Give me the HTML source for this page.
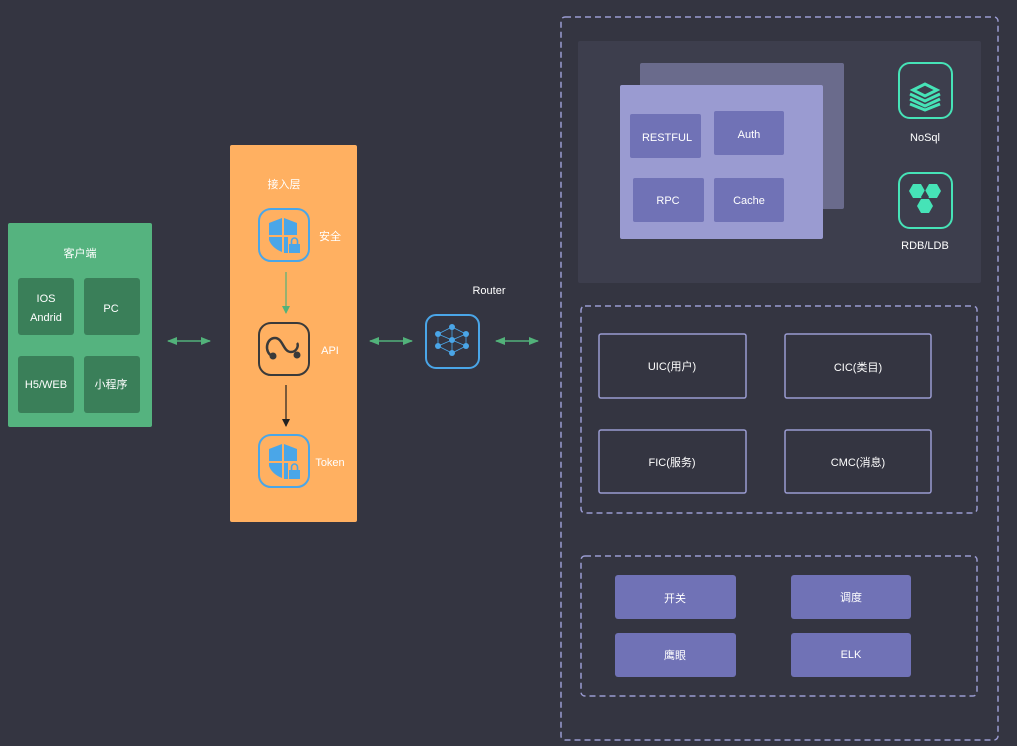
<!DOCTYPE html>
<html><head><meta charset="utf-8"><style>
html,body{margin:0;padding:0;background:#343541;width:1017px;height:746px;overflow:hidden}
text{font-family:"Liberation Sans","Noto Sans CJK SC",sans-serif;fill:#fff;font-size:11px;text-anchor:middle}
</style></head><body>
<svg width="1017" height="746" viewBox="0 0 1017 746" xmlns="http://www.w3.org/2000/svg">
<defs>
<marker id="ga" markerWidth="10" markerHeight="8" refX="9" refY="4" orient="auto-start-reverse" markerUnits="userSpaceOnUse"><path d="M0,0 L10,4 L0,8 Z" fill="#52b27a"/></marker>
<marker id="gb" markerWidth="8" markerHeight="8" refX="4" refY="7" orient="0" markerUnits="userSpaceOnUse"><path d="M0,0 L8,0 L4,8 Z" fill="#52b27a"/></marker>
<marker id="bb" markerWidth="8" markerHeight="8" refX="4" refY="7" orient="0" markerUnits="userSpaceOnUse"><path d="M0,0 L8,0 L4,8 Z" fill="#222"/></marker>
<g id="shield">
<rect x="1" y="1" width="50" height="52" rx="12" fill="none" stroke="#4aa6e8" stroke-width="2"/>
<path d="M11,15 L24,10 L24,27 L11,27 Z M26,10 L39,15 L39,27 L26,27 Z M11,29 L24,29 L24,44 Q14,40 11,32 Z M26,29 L30,29 L30,45 L26,45 Z" fill="#4aa6e8"/>
<rect x="31" y="36" width="11" height="9" fill="#4aa6e8"/>
<path d="M33.5,36 V33 a3,3 0 0 1 6,0 V36" fill="none" stroke="#4aa6e8" stroke-width="1.6"/>
</g>
</defs>

<!-- client -->
<rect x="8" y="223" width="144" height="204" rx="2" fill="#55b37f"/>
<text x="80" y="257" font-size="12">客户端</text>
<rect x="18" y="278" width="56" height="57" rx="3" fill="#3a7f59"/>
<rect x="84" y="278" width="56" height="57" rx="3" fill="#3a7f59"/>
<rect x="18" y="356" width="56" height="57" rx="3" fill="#3a7f59"/>
<rect x="84" y="356" width="56" height="57" rx="3" fill="#3a7f59"/>
<text x="46" y="302">IOS</text><text x="46" y="321">Andrid</text>
<text x="111" y="312">PC</text>
<text x="46" y="388">H5/WEB</text>
<text x="111" y="388">小程序</text>

<!-- arrows -->
<line x1="168" y1="341" x2="210" y2="341" stroke="#52b27a" stroke-width="1.5" marker-start="url(#ga)" marker-end="url(#ga)"/>
<line x1="370" y1="341" x2="412" y2="341" stroke="#52b27a" stroke-width="1.5" marker-start="url(#ga)" marker-end="url(#ga)"/>
<line x1="496" y1="341" x2="538" y2="341" stroke="#52b27a" stroke-width="1.5" marker-start="url(#ga)" marker-end="url(#ga)"/>

<!-- access layer -->
<rect x="230" y="145" width="127" height="377" rx="2" fill="#ffb061"/>
<text x="284" y="188" font-size="12">接入层</text>
<use href="#shield" x="258" y="208"/>
<text x="330" y="240">安全</text>
<line x1="286" y1="272" x2="286" y2="313" stroke="#52b27a" stroke-width="1.2" marker-end="url(#gb)"/>
<rect x="259" y="323" width="50" height="52" rx="12" fill="none" stroke="#3a3a3a" stroke-width="2"/>
<path d="M272,356 C264,352 266,338 275,338 C283,338 283,352 291,352 C297,352 299,345 297,343" fill="none" stroke="#3a3a3a" stroke-width="2.5"/>
<circle cx="273" cy="356" r="3.5" fill="#3a3a3a"/>
<circle cx="297" cy="355" r="3.5" fill="#3a3a3a"/>
<text x="330" y="354">API</text>
<line x1="286" y1="385" x2="286" y2="426" stroke="#222" stroke-width="1.2" marker-end="url(#bb)"/>
<use href="#shield" x="258" y="434"/>
<text x="330" y="466">Token</text>

<!-- router -->
<text x="489" y="294">Router</text>
<rect x="426" y="315" width="53" height="53" rx="10" fill="none" stroke="#4aa6e8" stroke-width="2"/>
<g stroke="#4aa6e8" stroke-width="0.8" fill="none">
<path d="M452,327 L438,334 L438,346 L452,353 L466,346 L466,334 Z M452,327 V353 M438,334 L466,346 M466,334 L438,346"/>
</g>
<g fill="#4aa6e8"><circle cx="452" cy="327" r="3"/><circle cx="438" cy="334" r="3"/><circle cx="466" cy="334" r="3"/><circle cx="438" cy="346" r="3"/><circle cx="466" cy="346" r="3"/><circle cx="452" cy="353" r="3"/><circle cx="452" cy="340" r="3"/></g>

<!-- outer dashed -->
<rect x="561" y="17" width="437" height="723" rx="4" fill="none" stroke="#9a9bd1" stroke-width="1.5" stroke-dasharray="6,4"/>
<rect x="578" y="41" width="403" height="242" rx="2" fill="#3d3e4d"/>
<rect x="640" y="63" width="204" height="146" rx="2" fill="#6a6b8c"/>
<rect x="620" y="85" width="203" height="154" rx="2" fill="#9a9bd1"/>
<rect x="630" y="114" width="71" height="44" rx="2" fill="#7072b6"/>
<rect x="714" y="111" width="70" height="44" rx="2" fill="#7072b6"/>
<rect x="633" y="178" width="71" height="44" rx="2" fill="#7072b6"/>
<rect x="714" y="178" width="70" height="44" rx="2" fill="#7072b6"/>
<text x="667" y="141">RESTFUL</text><text x="749" y="138">Auth</text>
<text x="668" y="204">RPC</text><text x="749" y="204">Cache</text>

<rect x="899" y="63" width="53" height="55" rx="11" fill="none" stroke="#46e3b7" stroke-width="2"/>
<g fill="none" stroke="#46e3b7" stroke-width="3">
<path d="M913,90 L925,84 L937,90 L925,96 Z"/>
<path d="M910,94 L925,101 L940,94"/><path d="M910,99 L925,106 L940,99"/><path d="M910,104 L925,110 L940,104"/>
</g>
<text x="925" y="141">NoSql</text>
<rect x="899" y="173" width="53" height="55" rx="11" fill="none" stroke="#46e3b7" stroke-width="2"/>
<g fill="#46e3b7">
<polygon points="909,191 913,184 921,184 925,191 921,198 913,198"/>
<polygon points="925,191 929,184 937,184 941,191 937,198 929,198"/>
<polygon points="917,206 921,199 929,199 933,206 929,213 921,213"/>
</g>
<polygon points="925,190 921,197 929,197" fill="#3d3e4d"/>
<text x="925" y="249">RDB/LDB</text>

<!-- middle -->
<rect x="581" y="306" width="396" height="207" rx="4" fill="none" stroke="#9a9bd1" stroke-width="1.5" stroke-dasharray="6,4"/>
<g fill="none" stroke="#9a9bd1" stroke-width="1.5">
<rect x="599" y="334" width="147" height="64" rx="2"/><rect x="785" y="334" width="146" height="64" rx="2"/>
<rect x="599" y="430" width="147" height="63" rx="2"/><rect x="785" y="430" width="146" height="63" rx="2"/>
</g>
<text x="672" y="370">UIC(用户)</text><text x="858" y="371">CIC(类目)</text>
<text x="672" y="466">FIC(服务)</text><text x="858" y="466">CMC(消息)</text>

<!-- bottom -->
<rect x="581" y="556" width="396" height="140" rx="4" fill="none" stroke="#9a9bd1" stroke-width="1.5" stroke-dasharray="6,4"/>
<g fill="#7072b6">
<rect x="615" y="575" width="121" height="44" rx="3"/><rect x="791" y="575" width="120" height="44" rx="3"/>
<rect x="615" y="633" width="121" height="44" rx="3"/><rect x="791" y="633" width="120" height="44" rx="3"/>
</g>
<text x="675" y="602">开关</text><text x="851" y="601">调度</text>
<text x="675" y="659">鹰眼</text><text x="851" y="658">ELK</text>
</svg>
</body></html>
